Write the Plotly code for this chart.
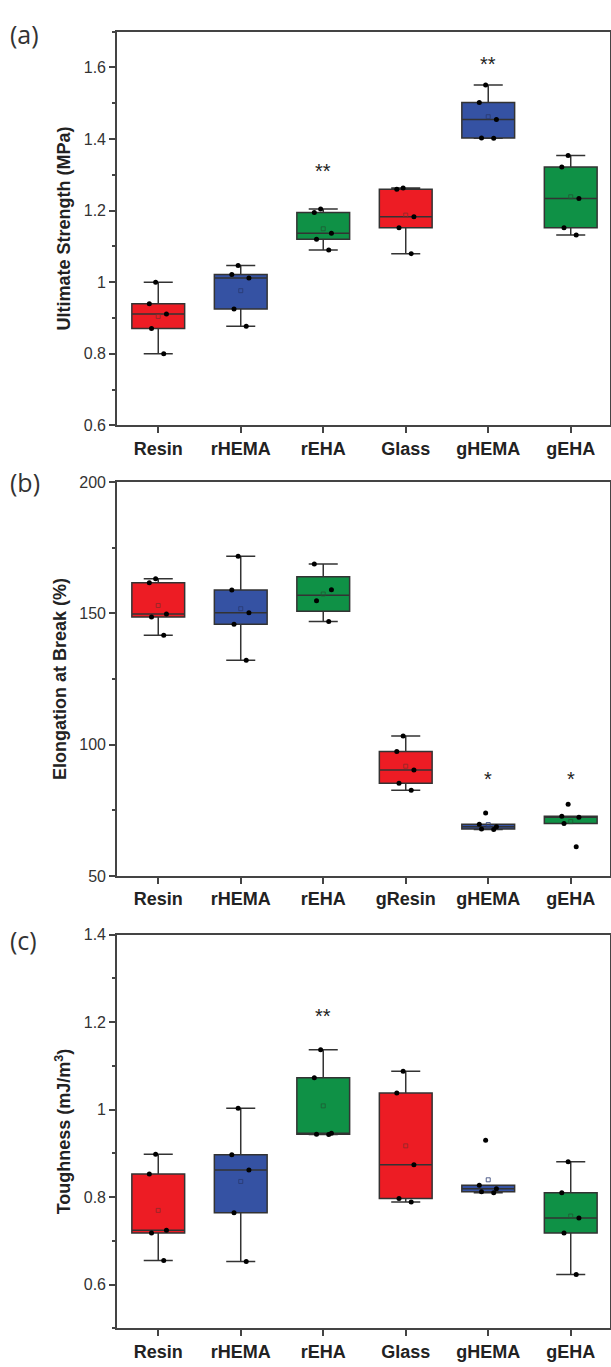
import numpy as np
import plotly.graph_objects as go

# ---------------- data ----------------
cats_a = ["Resin", "rHEMA", "rEHA", "Glass", "gHEMA", "gEHA"]
cats_b = ["Resin", "rHEMA", "rEHA", "gResin", "gHEMA", "gEHA"]
cats_c = ["Resin", "rHEMA", "rEHA", "Glass", "gHEMA", "gEHA"]

strength_resin = [1.000, 0.940, 0.911, 0.871, 0.800]
strength_rhema = [1.047, 1.022, 1.012, 0.925, 0.877]
strength_reha = [1.205, 1.195, 1.137, 1.120, 1.090]
strength_glass = [1.263, 1.260, 1.183, 1.152, 1.080]
strength_ghema = [1.551, 1.502, 1.455, 1.403, 1.402]
strength_geha = [1.354, 1.322, 1.234, 1.152, 1.132]

elong_resin = [163.2, 161.7, 149.8, 148.6, 141.7]
elong_rhema = [171.7, 158.9, 150.2, 145.9, 132.2]
elong_reha = [168.8, 159.0, 154.8, 146.9]
elong_gresin = [103.3, 97.4, 90.4, 85.3, 82.7]
elong_ghema = [74.0, 69.7, 68.8, 67.9, 67.7]
elong_geha = [77.3, 72.8, 72.4, 70.0, 61.2]

tough_resin = [0.898, 0.853, 0.724, 0.718, 0.655]
tough_rhema = [1.003, 0.897, 0.862, 0.764, 0.653]
tough_reha = [1.137, 1.073, 0.946, 0.944, 0.943]
tough_glass = [1.088, 1.038, 0.874, 0.797, 0.789]
tough_ghema = [0.930, 0.827, 0.819, 0.812, 0.810]
tough_geha = [0.881, 0.810, 0.752, 0.718, 0.623]

sig_a = [("rEHA", 1.324, "**"), ("gHEMA", 1.625, "**")]
sig_b = [("gHEMA", 89.0, "*"), ("gEHA", 89.0, "*")]
sig_c = [("rEHA", 1.225, "**")]

titles = ["Ultimate Strength (MPa)", "Elongation at Break (%)",
          "Toughness (mJ/m<sup>3</sup>)"]
panel_labels = ["(a)", "(b)", "(c)"]

# ---------------- style ----------------
RED, BLUE, GREEN = "#ED1C24", "#3552A3", "#0F9146"
colors = [RED, BLUE, GREEN, RED, BLUE, GREEN]
mean_colors = ["#8a2a2a", "#2a3a70", "#1f5a33", "#8a2a2a", "#2a3a70", "#1f5a33"]

W, H = 611, 1367
x0, x1 = 117 / W, 609.5 / W
doms = [(1 - 422.7 / H, 1 - 24 / H),
        (1 - 879 / H, 1 - 480 / H),
        (1 - 1337 / H, 1 - 938.3 / H)]
label_y = [26.5, 480, 944]

panels = [
    (cats_a, [strength_resin, strength_rhema, strength_reha, strength_glass,
              strength_ghema, strength_geha], sig_a, [0.6, 1.7], 0.6, 0.2, 0.1),
    (cats_b, [elong_resin, elong_rhema, elong_reha, elong_gresin,
              elong_ghema, elong_geha], sig_b, [50, 200], 50, 50, 25),
    (cats_c, [tough_resin, tough_rhema, tough_reha, tough_glass,
              tough_ghema, tough_geha], sig_c, [0.5, 1.4], 0.6, 0.2, 0.1),
]

fig = go.Figure()
AXC = "#444444"
annotations = []

for p, (cats, groups, sigs, yr, t0, dt, mdt) in enumerate(panels):
    xa = "x" if p == 0 else f"x{p+1}"
    ya = "y" if p == 0 else f"y{p+1}"
    for i, (cat, vals) in enumerate(zip(cats, groups)):
        fig.add_trace(go.Box(
            x=[cat] * len(vals), y=vals, xaxis=xa, yaxis=ya,
            quartilemethod="inclusive", width=0.64, whiskerwidth=0.55,
            fillcolor=colors[i], line=dict(color="#333333", width=1.5),
            boxpoints="all", jitter=0.4, pointpos=0,
            marker=dict(color="black", size=5, symbol="circle"),
            showlegend=False, hoverinfo="y",
        ))
        fig.add_trace(go.Scatter(
            x=[cat], y=[float(np.mean(vals))], xaxis=xa, yaxis=ya,
            mode="markers", showlegend=False, hoverinfo="skip",
            marker=dict(symbol="square-open", size=4, color=mean_colors[i],
                        line=dict(width=0.8)),
        ))
    for cat, yv, txt in sigs:
        annotations.append(dict(x=cat, y=yv, xref=xa, yref=ya, text=txt,
                                showarrow=False, yshift=-5,
                                font=dict(size=20, color="#222222",
                                          family="Liberation Sans")))
    annotations.append(dict(x=8 / W, y=1 - label_y[p] / H,
                            xref="paper", yref="paper", xanchor="left",
                            yanchor="middle", text=panel_labels[p],
                            showarrow=False,
                            font=dict(size=25, color="#333333",
                                      family="Open Sans")))
    axkey = "xaxis" if p == 0 else f"xaxis{p+1}"
    aykey = "yaxis" if p == 0 else f"yaxis{p+1}"
    fig.update_layout(**{
        axkey: dict(domain=[x0, x1], anchor=ya, type="category",
                    categoryorder="array", categoryarray=cats,
                    range=[-0.5, 5.47], showline=True, linecolor=AXC,
                    linewidth=1.6, mirror=True, ticks="outside", ticklen=6,
                    tickwidth=1.5, tickcolor=AXC, showgrid=False,
                    zeroline=False,
                    tickfont=dict(size=18, color="#222222",
                                  family="Liberation Sans",
                                  weight="bold")),
        aykey: dict(domain=list(doms[p]), anchor=xa, range=yr,
                    tick0=t0, dtick=dt, showline=True, linecolor=AXC,
                    linewidth=1.6, mirror=True, ticks="outside", ticklen=6,
                    tickwidth=1.5, tickcolor=AXC, showgrid=False,
                    zeroline=False,
                    minor=dict(dtick=mdt, tick0=t0, ticks="outside",
                               ticklen=3.5, tickwidth=1.5, tickcolor=AXC,
                               showgrid=False),
                    tickfont=dict(size=16, color="#333333",
                                  family="Liberation Sans"),
                    title=dict(text=titles[p], standoff=8,
                               font=dict(size=18, color="#222222",
                                         family="Liberation Sans",
                                         weight="bold"))),
    })

fig.update_layout(width=W, height=H, margin=dict(l=0, r=0, t=0, b=0),
                  paper_bgcolor="white", plot_bgcolor="white",
                  boxmode="overlay", annotations=annotations)

fig.write_html(
    "out.html",
    config={"displayModeBar": False},
    post_script="document.body.style.margin='0';"
                "document.body.style.padding='0';"
                "document.body.style.overflow='hidden';",
)
